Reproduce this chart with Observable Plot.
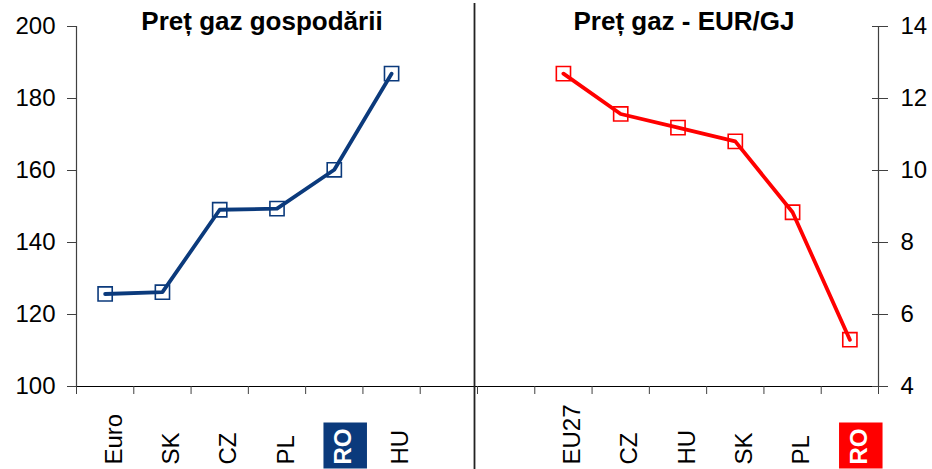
<!DOCTYPE html>
<html><head><meta charset="utf-8">
<script src="https://cdn.jsdelivr.net/npm/d3@7"></script>
<script src="https://cdn.jsdelivr.net/npm/@observablehq/plot@0.6"></script>
<style>
html,body{margin:0;padding:0;background:#fff;}
#chart{position:relative;width:932px;height:469px;font-family:"Liberation Sans",Arial,sans-serif;overflow:hidden;}
#chart svg{position:absolute;left:0;top:0;overflow:visible;}
.title{position:absolute;top:8px;font-weight:bold;font-size:26px;line-height:26px;transform:translateX(-50%);white-space:nowrap;color:#000;}
</style></head><body><div id="chart"></div>
<script>
// ---- data ----
const leftCats = ["Euro", "SK", "CZ", "PL", "RO", "HU"];
const leftVals = [125.7, 126.2, 149.1, 149.4, 160.2, 186.9];
const rightCats = ["EU27", "CZ", "HU", "SK", "PL", "RO"];
const rightVals = [12.69, 11.57, 11.19, 10.81, 8.84, 5.30];
const leftTicks = [100, 120, 140, 160, 180, 200];
const rightTicks = [4, 6, 8, 10, 12, 14];
const titles = ["Preț gaz gospodării", "Preț gaz - EUR/GJ"];
const highlight = "RO";

// ---- layout / style ----
const navy = "#0b3a7c", red = "#ff0000", axisColor = "#404040";
const W = 932, H = 469;
const margins = {marginLeft: 76, marginRight: 54, marginTop: 26, marginBottom: 83};
const slots = 14, rightStart = 8;   // category slots on the shared x axis
const font = "'Liberation Sans', Arial, sans-serif";

const leftData = leftCats.map((c, i) => ({pos: i + 0.5, v: leftVals[i], c}));
const rightData = rightCats.map((c, i) => ({pos: rightStart + i + 0.5, v: rightVals[i], c}));
const labelPos = [...leftData, ...rightData].map(d => d.pos);
const labelOf = new Map([...leftData, ...rightData].map(d => [d.pos, d.c]));
const boundaries = d3.range(0, slots + 1);

const common = {
  width: W, height: H, ...margins,
  x: {type: "linear", domain: [0, slots], axis: null},
  style: {fontSize: "24px", fontFamily: font, color: "#000", background: "transparent", overflow: "visible"}
};

const leftPlot = Plot.plot({
  ...common,
  y: {domain: [leftTicks[0], leftTicks[leftTicks.length - 1]], axis: null},
  marks: [
    Plot.axisY({ticks: leftTicks, tickSize: 9, tickPadding: 12, stroke: axisColor, label: null}),
    Plot.ruleX([0], {stroke: axisColor, strokeWidth: 1.2}),
    Plot.ruleY([leftTicks[0]], {stroke: "#000", strokeWidth: 1.2}),
    Plot.axisX({ticks: boundaries, tickSize: 8, tickFormat: () => "", stroke: axisColor, label: null}),
    Plot.axisX({ticks: labelPos, tickSize: 0, tickRotate: -90, textAnchor: "start",
                tickPadding: 78, dx: 9, tickFormat: d => labelOf.get(d), label: null}),
    Plot.ruleX([rightStart - 1], {dx: -3, insetTop: -23, insetBottom: -83, stroke: "#222", strokeWidth: 1.8}),
    Plot.line(leftData, {x: "pos", y: "v", stroke: navy, strokeWidth: 3.8}),
    Plot.dot(leftData, {x: "pos", y: "v", symbol: "square", r: 8, stroke: navy, strokeWidth: 1.6, fill: "none"})
  ]
});

const rightPlot = Plot.plot({
  ...common,
  y: {domain: [rightTicks[0], rightTicks[rightTicks.length - 1]], axis: null},
  marks: [
    Plot.axisY({anchor: "right", ticks: rightTicks, tickSize: 9, tickPadding: 13, stroke: axisColor, label: null}),
    Plot.axisY({anchor: "right", ticks: rightTicks, tickSize: -7, tickFormat: () => "", stroke: axisColor, label: null}),
    Plot.ruleX([slots], {stroke: axisColor, strokeWidth: 1.2}),
    Plot.line(rightData, {x: "pos", y: "v", stroke: red, strokeWidth: 3.8}),
    Plot.dot(rightData, {x: "pos", y: "v", symbol: "square", r: 8, stroke: red, strokeWidth: 1.6, fill: "none"})
  ]
});

const chart = document.getElementById("chart");
chart.appendChild(leftPlot);
chart.appendChild(rightPlot);

// titles
const titleX = [262, 684];
titles.forEach((t, i) => {
  const div = document.createElement("div");
  div.className = "title";
  div.style.left = titleX[i] + "px";
  div.textContent = t;
  chart.appendChild(div);
});

// highlighted category label boxes
const splitPx = leftPlot.scale("x").apply(rightStart - 1);
const chartLeft = chart.getBoundingClientRect().left;
const texts = leftPlot.querySelectorAll('g[aria-label="x-axis tick label"] text');
texts.forEach((t) => {
  if (t.textContent !== highlight) return;
  const r0 = t.getBoundingClientRect();
  const color = (r0.left + r0.width / 2 - chartLeft) < splitPx ? navy : red;
  t.setAttribute("fill", "#fff");
  t.setAttribute("font-weight", "bold");
  const b = t.getBBox();
  const rect = document.createElementNS("http://www.w3.org/2000/svg", "rect");
  rect.setAttribute("x", b.x - 4);
  rect.setAttribute("width", b.width + 10);
  rect.setAttribute("y", b.y - 5.5);
  rect.setAttribute("height", b.height + 16.5);
  rect.setAttribute("fill", color);
  if (t.getAttribute("transform")) rect.setAttribute("transform", t.getAttribute("transform"));
  t.parentNode.insertBefore(rect, t);
});
</script></body></html>
